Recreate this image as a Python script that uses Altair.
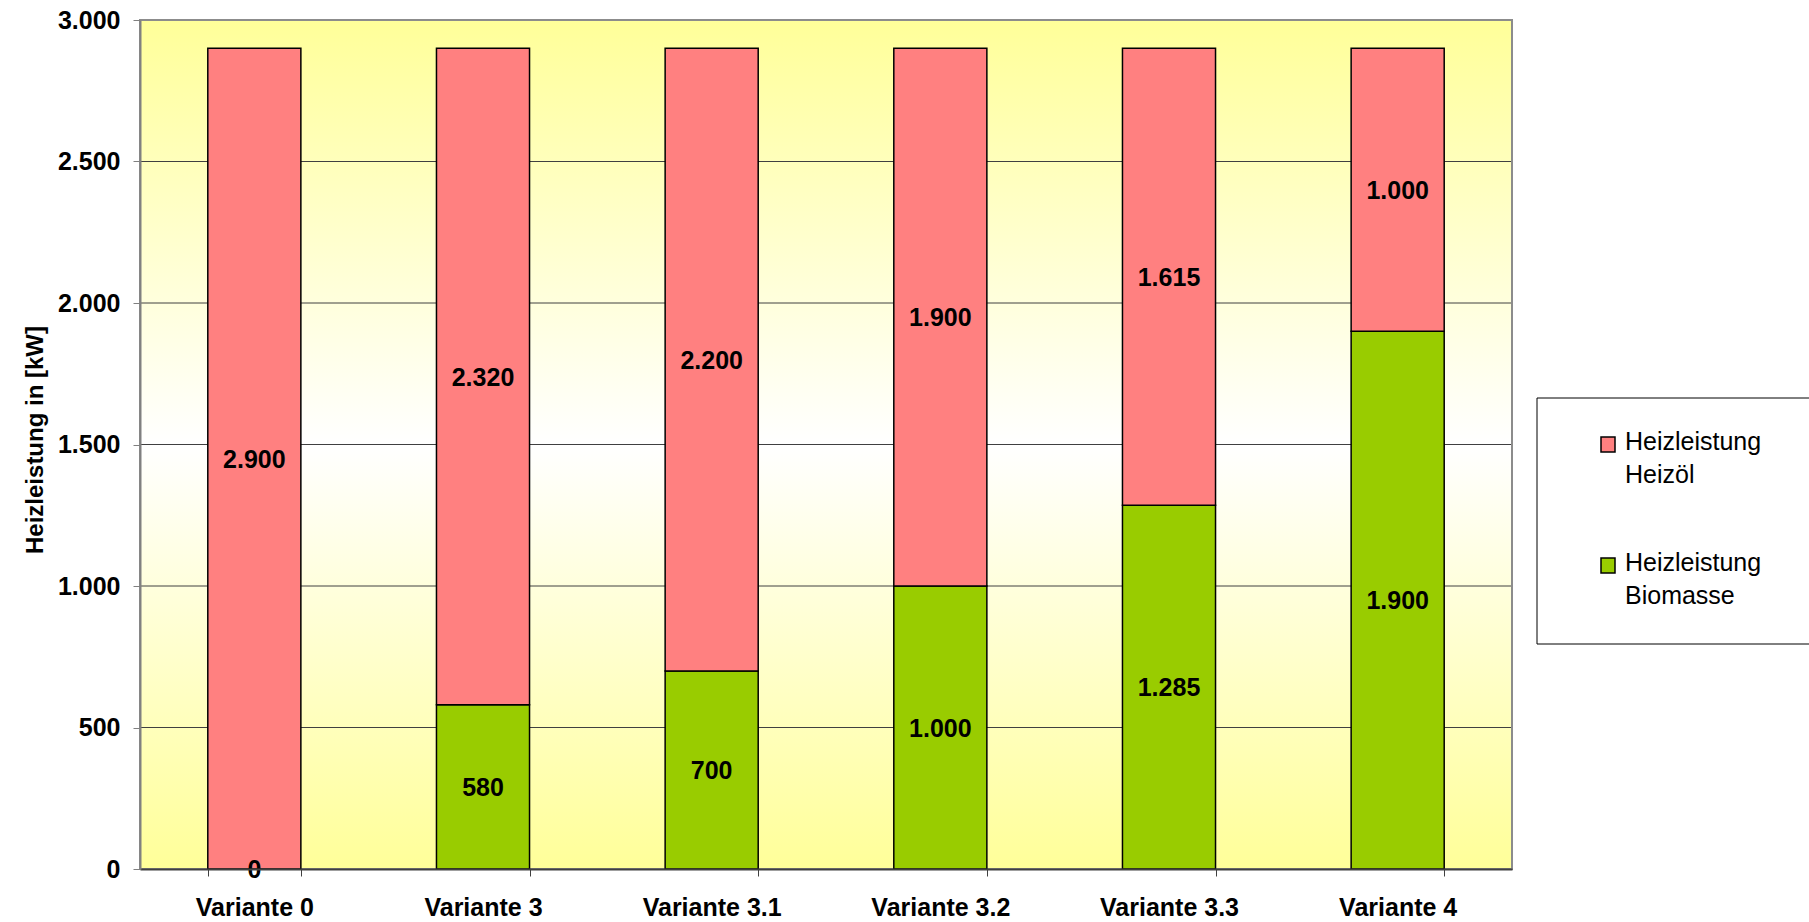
import altair as alt
import pandas as pd

variants = ["Variante 0", "Variante 3", "Variante 3.1", "Variante 3.2", "Variante 3.3", "Variante 4"]
biomasse = [0, 580, 700, 1000, 1285, 1900]
heizoel = [2900, 2320, 2200, 1900, 1615, 1000]
series = ["Heizleistung Heizöl", "Heizleistung Biomasse"]
colors = ["#FF8080", "#99CC00"]
y_ticks = [0, 500, 1000, 1500, 2000, 2500, 3000]

rows = []
for v, b, h in zip(variants, biomasse, heizoel):
    rows.append({"variant": v, "series": series[1], "value": b, "ord": 0})
    rows.append({"variant": v, "series": series[0], "value": h, "ord": 1})
df = pd.DataFrame(rows)

FONT = "Liberation Sans"
W, H = 1372, 849

x_enc = alt.X(
    "variant:N",
    sort=variants,
    scale=alt.Scale(paddingInner=0.593, paddingOuter=0.2965),
    axis=alt.Axis(
        title=None, labelAngle=0, labelFont=FONT, labelFontSize=25, labelFontWeight="bold",
        labelColor="black", labelBaseline="alphabetic", labelPadding=39, tickSize=7,
        tickBand="extent", tickColor="#404040", domainColor="#404040", domainWidth=2,
        grid=False, zindex=1,
    ),
)

y_scale = alt.Scale(domain=[0, 3000], nice=False)
y_axis = alt.Axis(
    values=y_ticks,
    labelExpr="replace(format(datum.value, ','), ',', '.')",
    labelFont=FONT, labelFontSize=25, labelFontWeight="bold", labelColor="black",
    labelPadding=13, tickSize=7, tickColor="#808080", domainColor="#808080",
    domainWidth=2, grid=False, zindex=1,
    title="Heizleistung in [kW]", titleFont=FONT, titleFontSize=24,
    titleFontWeight="bold", titleColor="black", titleX=-98, titleY=419.5,
    titleAlign="center", titleBaseline="alphabetic", titleAngle=270,
)

gradient = alt.Gradient(
    gradient="linear",
    stops=[
        alt.GradientStop(offset=0, color="#FFFF99"),
        alt.GradientStop(offset=0.5, color="#FFFFFF"),
        alt.GradientStop(offset=1, color="#FFFF99"),
    ],
    x1=0, x2=0, y1=0, y2=1,
)

one = pd.DataFrame({"a": [0]})

background = alt.Chart(one).mark_rect(fill=gradient).encode(
    x=alt.value(0), x2=alt.value(W), y=alt.value(0), y2=alt.value(H)
)

grid = alt.Chart(pd.DataFrame({"v": y_ticks})).mark_rule(color="#404040", strokeWidth=1).encode(
    y=alt.Y("v:Q", scale=y_scale, axis=y_axis)
)

border = alt.Chart(one).mark_rect(fill=None, stroke="#8C8C8C", strokeWidth=2).encode(
    x=alt.value(0), x2=alt.value(W), y=alt.value(0), y2=alt.value(H)
)

bars = alt.Chart(df).mark_bar(stroke="black", strokeWidth=1.5).encode(
    x=x_enc,
    y=alt.Y("value:Q", stack="zero", scale=y_scale, axis=y_axis),
    color=alt.Color("series:N", scale=alt.Scale(domain=series, range=colors), legend=None),
    order=alt.Order("ord:Q"),
)

labels = alt.Chart(df).transform_stack(
    stack="value", groupby=["variant"], as_=["y0", "y1"], sort=[alt.SortField("ord", order="ascending")]
).transform_calculate(
    mid="(datum.y0 + datum.y1) / 2",
    txt="replace(format(datum.value, ','), ',', '.')",
).mark_text(
    font=FONT, fontSize=25, fontWeight="bold", color="black", baseline="middle", dy=1
).encode(
    x=alt.X("variant:N", sort=variants),
    y=alt.Y("mid:Q", scale=y_scale, axis=y_axis),
    text="txt:N",
)

# Legend (drawn manually)
legend_layers = [
    alt.Chart(one).mark_rect(fill="white", stroke="black", strokeWidth=1).encode(
        x=alt.value(1397), x2=alt.value(1720), y=alt.value(378), y2=alt.value(624)
    )
]
entry_y = [417, 538]
for i, (name, col) in enumerate(zip(series, colors)):
    d = pd.DataFrame({"label": [name]})
    legend_layers.append(
        alt.Chart(d).mark_rect(fill=col, stroke="black", strokeWidth=1.5).encode(
            x=alt.value(1461), x2=alt.value(1475), y=alt.value(entry_y[i]), y2=alt.value(entry_y[i] + 15)
        )
    )
    legend_layers.append(
        alt.Chart(d).mark_text(
            font=FONT, fontSize=25, color="black", align="left", baseline="alphabetic",
            lineBreak=" ", lineHeight=33,
        ).encode(
            x=alt.value(1485), y=alt.value(entry_y[i] + 13), text="label:N"
        )
    )

chart = alt.layer(background, grid, border, bars, labels, *legend_layers).properties(
    width=W,
    height=H,
    autosize=alt.AutoSizeParams(type="none"),
    padding={"left": 140, "top": 20, "right": 297, "bottom": 53},
    background="white",
).configure_view(
    stroke=None
)

chart.save("out.html", embed_options={"renderer": "svg", "actions": False})
